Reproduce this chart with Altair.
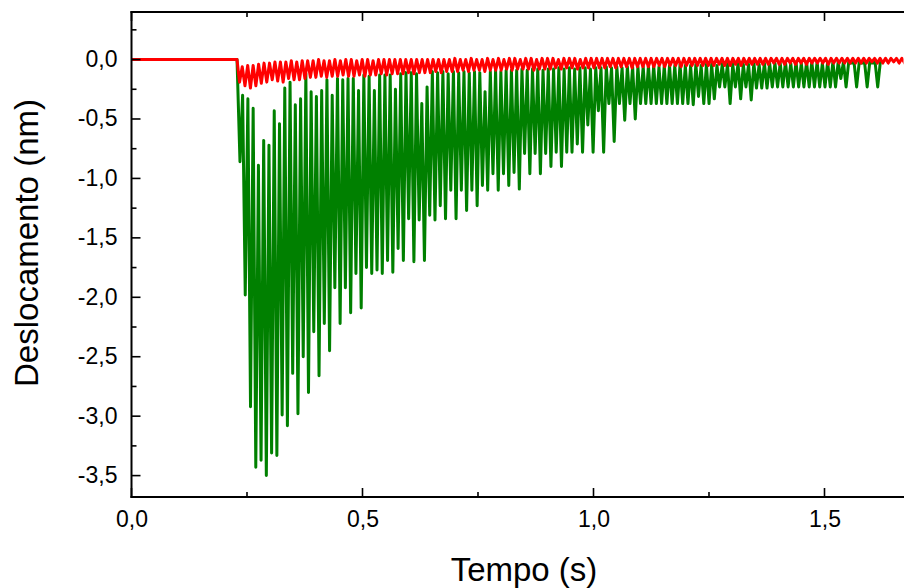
import altair as alt
import pandas as pd

# ---------------- data ----------------
event_time = 0.2284          # s, start of the disturbance
green_first = 0.2348         # s, first green trough
green_period = 0.011408      # s, spacing of green cycles
red_first = 0.2338           # s, first red trough
red_period = 0.0118          # s, spacing of red cycles

green_troughs = [
    -0.86, -1.98, -2.92, -3.43, -3.37, -3.50, -3.31, -3.33, -2.99, -3.08, -2.64, -2.98, -2.50, -2.80,
    -2.29, -2.66, -2.22, -2.45, -1.92, -2.22, -1.92, -2.13, -1.80, -2.09, -1.75, -1.80, -1.77, -1.80,
    -1.69, -1.79, -1.59, -1.69,
    -1.34, -1.70, -1.35, -1.69, -1.31, -1.35, -1.23, -1.34, -1.10, -1.34, -1.10, -1.27, -1.10, -1.23,
    -1.06, -1.10, -0.96, -1.10, -0.96, -1.06,
    -0.95, -1.09, -0.79, -0.96, -0.79, -0.96, -0.79, -0.90, -0.78, -0.90, -0.78, -0.78, -0.71, -0.78,
    -0.55, -0.78, -0.43, -0.78, -0.37, -0.69, -0.37, -0.51, -0.37, -0.50,
    -0.37, -0.37, -0.37, -0.37, -0.37, -0.37, -0.37, -0.37, -0.37, -0.37, -0.38, -0.31, -0.37, -0.37,
    -0.33, -0.23, -0.23, -0.37, -0.23, -0.33, -0.23, -0.34, -0.24, -0.24, -0.24,
    -0.23, -0.23, -0.23, -0.23, -0.23, -0.23, -0.23, -0.23, -0.23, -0.23, -0.23, -0.23, -0.23, -0.16,
    -0.23, -0.03, -0.23, -0.03, -0.23, -0.03, -0.23,
]
green_tops = [
    -0.30, -0.33, -0.41, -0.89, -0.68, -0.72, -0.43, -0.54, -0.24, -0.19, -0.38, -0.33, -0.12, -0.27,
    -0.31, -0.26, -0.17, -0.30, -0.16, -0.17, -0.16, -0.16, -0.26, -0.13, -0.14, -0.26, -0.13, -0.13,
    -0.13, -0.25, -0.12, -0.11,
    -0.11, -0.12, -0.37, -0.23, -0.10, -0.11, -0.10, -0.12, -0.10, -0.11, -0.10, -0.11, -0.10, -0.11,
    -0.27, -0.10, -0.09, -0.10, -0.09, -0.09,
    -0.09, -0.08, -0.09, -0.08, -0.08, -0.09, -0.08, -0.08, -0.07, -0.08, -0.07, -0.08, -0.07, -0.07,
    -0.08, -0.07, -0.07, -0.06, -0.07, -0.06, -0.07, -0.06, -0.06, -0.06,
    -0.06, -0.05, -0.05, -0.06, -0.05, -0.05, -0.05, -0.04, -0.05, -0.05, -0.04, -0.05, -0.04, -0.04,
    -0.05, -0.04, -0.04, -0.04, -0.03, -0.04, -0.04, -0.03, -0.04, -0.03, -0.03,
    -0.03, -0.03, -0.02, -0.03, -0.02, -0.03, -0.02, -0.02, -0.02, -0.03, -0.02, -0.02, -0.02, -0.02,
    -0.02, -0.02, -0.02, -0.02, -0.02, -0.02, -0.02,
]
red_troughs = [
    -0.19, -0.22, -0.24, -0.22,
    -0.20, -0.19, -0.17, -0.18, -0.19, -0.16, -0.17,
    -0.17, -0.16, -0.15, -0.15, -0.14, -0.15, -0.14, -0.14, -0.13,
    -0.14, -0.14, -0.13, -0.14, -0.13, -0.13, -0.12, -0.13, -0.12,
    -0.12, -0.12, -0.11, -0.12, -0.11, -0.11, -0.11, -0.10, -0.11,
    -0.10, -0.10, -0.10, -0.09, -0.10, -0.09, -0.09, -0.10, -0.09,
    -0.09, -0.09, -0.08, -0.09, -0.08, -0.08, -0.08, -0.09, -0.08,
    -0.08, -0.08, -0.07, -0.08, -0.07, -0.07, -0.08, -0.07, -0.07, -0.07,
    -0.07, -0.07, -0.06, -0.07, -0.06, -0.06, -0.07, -0.06, -0.06,
    -0.06, -0.06, -0.05, -0.06, -0.05, -0.05, -0.06, -0.05, -0.05, -0.05,
    -0.05, -0.05, -0.05, -0.04, -0.05, -0.05, -0.04, -0.05, -0.04,
    -0.04, -0.04, -0.04, -0.04, -0.03, -0.04, -0.04, -0.03, -0.04,
    -0.03, -0.04, -0.03, -0.03, -0.03, -0.04, -0.03, -0.03, -0.03, -0.03,
    -0.03, -0.03, -0.03, -0.02, -0.03, -0.03, -0.03, -0.02, -0.03, -0.03, -0.03,
]
red_tops = [
    -0.06, -0.05, -0.05, -0.04,
    -0.03, -0.03, -0.02, -0.02, -0.02, -0.01, -0.02,
    -0.01, -0.01, -0.01, 0.00, -0.01, -0.01, 0.00, -0.01, 0.00,
    0.00, -0.01, 0.00, 0.00, -0.01, 0.00, 0.00, 0.00, 0.00,
    0.00, 0.00, 0.00, 0.00, 0.00, 0.00, 0.00, 0.00, 0.00,
    0.00, 0.01, 0.00, 0.00, 0.01, 0.00, 0.00, 0.01, 0.00,
    0.01, 0.00, 0.01, 0.01, 0.00, 0.01, 0.01, 0.00, 0.01,
    0.01, 0.01, 0.00, 0.01, 0.01, 0.01, 0.00, 0.01, 0.01, 0.01,
    0.01, 0.01, 0.01, 0.01, 0.01, 0.01, 0.01, 0.01, 0.01,
    0.01, 0.01, 0.01, 0.01, 0.01, 0.01, 0.01, 0.01, 0.01, 0.01,
    0.01, 0.01, 0.01, 0.01, 0.01, 0.01, 0.01, 0.01, 0.01,
    0.01, 0.01, 0.01, 0.01, 0.01, 0.01, 0.01, 0.01, 0.01,
    0.01, 0.01, 0.01, 0.01, 0.01, 0.01, 0.01, 0.01, 0.01, 0.01,
    0.01, 0.01, 0.01, 0.01, 0.01, 0.01, 0.01, 0.01, 0.01, 0.01, 0.01,
]

x_major = [0.0, 0.5, 1.0, 1.5]
x_minor = [0.25, 0.75, 1.25]
y_major = [-3.5, -3.0, -2.5, -2.0, -1.5, -1.0, -0.5, 0.0]
y_minor = [-3.25, -2.75, -2.25, -1.75, -1.25, -0.75, -0.25, 0.25]

# ---------------- build tables ----------------
def build(name, first, period, troughs, tops):
    rows = [{"t": 0.0, "v": 0.0, "s": name, "o": 0},
            {"t": event_time, "v": 0.0, "s": name, "o": 1}]
    k = 2
    for i, (lo, hi) in enumerate(zip(troughs, tops)):
        rows.append({"t": first + i * period, "v": lo, "s": name, "o": k}); k += 1
        rows.append({"t": first + (i + 0.5) * period, "v": hi, "s": name, "o": k}); k += 1
    return pd.DataFrame(rows)

green_df = build("green", green_first, green_period, green_troughs, green_tops)
red_df = build("red", red_first, red_period, red_troughs, red_tops)

W, H = 772, 485
X_MAX = 1.671
FONT = "Liberation Sans"
xs = alt.Scale(domain=[0, X_MAX], nice=False, zero=False)
ys = alt.Scale(domain=[-3.68, 0.4], nice=False, zero=False)
lab = "replace(replace(format(datum.value, '.1f'), '.', ','), '\u2212', '-')"

x_axis = alt.Axis(values=x_major, labelExpr=lab, ticks=False, tickSize=0, domain=False, grid=False,
                  labelFlush=False,
                  labelFont=FONT, labelFontSize=23, labelColor="black", labelPadding=11,
                  title="Tempo (s)", titleFont=FONT, titleFontSize=33, titleFontWeight="normal",
                  titleColor="black", titleX=392, titleY=83, titleBaseline="alphabetic",
                  titleAlign="center")
y_axis = alt.Axis(values=y_major, labelExpr=lab, ticks=False, tickSize=0, domain=False, grid=False,
                  labelFlush=False,
                  labelFont=FONT, labelFontSize=23, labelColor="black", labelPadding=14.5,
                  title="Deslocamento (nm)", titleFont=FONT, titleFontSize=33, titleFontWeight="normal",
                  titleColor="black", titleAngle=270, titleX=-94.5, titleY=230.5,
                  titleBaseline="alphabetic", titleAlign="center")

X = lambda f: alt.X(f, scale=xs, axis=x_axis)
Y = lambda f: alt.Y(f, scale=ys, axis=y_axis)

green = alt.Chart(green_df).mark_line(color="#008000", strokeWidth=3.0, clip=True,
                                       strokeJoin="round", strokeCap="round").encode(
    x=X("t:Q"), y=Y("v:Q"), order="o:Q")
red = alt.Chart(red_df).mark_line(color="#ff0000", strokeWidth=3.0, clip=True,
                                   strokeJoin="round", strokeCap="round").encode(
    x=X("t:Q"), y=Y("v:Q"), order="o:Q")

def xticks(vals, length):
    d = pd.DataFrame({"t": vals})
    bot = alt.Chart(d).mark_rule(color="black", strokeWidth=1.6).encode(
        x=X("t:Q"), y=alt.value(H), y2=alt.value(H - length))
    top = alt.Chart(d).mark_rule(color="black", strokeWidth=1.6).encode(
        x=X("t:Q"), y=alt.value(0), y2=alt.value(length))
    return [bot, top]

def yticks(vals, length):
    d = pd.DataFrame({"v": vals})
    left = alt.Chart(d).mark_rule(color="black", strokeWidth=1.6).encode(
        y=Y("v:Q"), x=alt.value(0), x2=alt.value(length))
    return [left]

# frame: top, bottom and left edges (right edge lies outside the window in the original)
frame_df = pd.DataFrame({"edge": ["top", "bottom", "left"]})
frame_top = alt.Chart(frame_df.iloc[[0]]).mark_rule(color="black", strokeWidth=2).encode(
    x=alt.value(-1), x2=alt.value(W + 2), y=alt.value(0))
frame_bot = alt.Chart(frame_df.iloc[[1]]).mark_rule(color="black", strokeWidth=2).encode(
    x=alt.value(-1), x2=alt.value(W + 2), y=alt.value(H))
frame_left = alt.Chart(frame_df.iloc[[2]]).mark_rule(color="black", strokeWidth=2).encode(
    x=alt.value(0), y=alt.value(-1), y2=alt.value(H + 1))

layers = ([green, red] + xticks(x_major, 9) + xticks(x_minor, 5) + yticks(y_major, 9)
          + yticks(y_minor, 5) + [frame_top, frame_bot, frame_left])

chart = alt.layer(*layers).properties(
    width=W, height=H,
    padding={"left": 123.5, "top": 4, "right": 0, "bottom": 91},
    autosize=alt.AutoSizeParams(type="none"),
).configure_view(stroke=None)

chart.save("out.html", embed_options={"renderer": "svg", "actions": False})
